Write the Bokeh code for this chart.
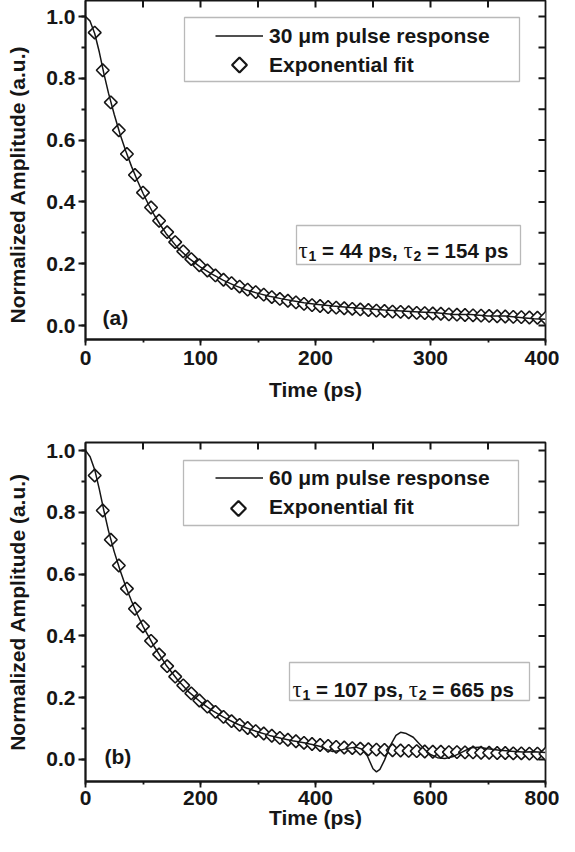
import numpy as np
from bokeh.plotting import figure
from bokeh.layouts import column
from bokeh.models import (Range1d, SingleIntervalTicker, Legend, LegendItem,
                          BoxAnnotation, Label, PrintfTickFormatter)
from bokeh.embed import file_html
from bokeh.resources import INLINE

FONT = "Liberation Sans"
SERIF = "Liberation Serif"
INK = "#161616"

# ---------------- panel (a): 30 um pulse ----------------
resp_a_t = [0, 4, 8, 12, 16, 20, 25, 30, 35, 40, 45, 50, 55, 60, 65, 70, 80, 90, 100, 110,
            120, 130, 140, 150, 160, 170, 180, 190, 200, 215, 230, 245, 260, 275, 290, 305,
            320, 335, 350, 365, 380, 390, 400]
resp_a_y = [1.000, 0.985, 0.945, 0.885, 0.815, 0.752, 0.683, 0.620, 0.565, 0.515, 0.470,
            0.428, 0.390, 0.356, 0.326, 0.298, 0.252, 0.217, 0.189, 0.166, 0.146, 0.129,
            0.115, 0.104, 0.095, 0.087, 0.080, 0.074, 0.069, 0.063, 0.058, 0.054, 0.050,
            0.047, 0.044, 0.041, 0.036, 0.036, 0.031, 0.031, 0.025, 0.022, 0.020]
fit_a_t = [8, 15, 22, 29, 36, 43, 50, 57, 64, 71, 78, 85, 92, 99, 106, 113, 120, 127, 134,
           141, 148, 155, 162, 169, 176, 183, 190, 197, 204, 211, 218, 225, 232, 239, 246,
           253, 260, 267, 274, 281, 288, 295, 302, 309, 316, 323, 330, 337, 344, 351, 358,
           365, 372, 379, 386, 393, 400]
fit_a_y = [0.948, 0.826, 0.722, 0.632, 0.555, 0.487, 0.430, 0.382, 0.339, 0.302, 0.270,
           0.240, 0.215, 0.195, 0.178, 0.162, 0.148, 0.137, 0.126, 0.116, 0.108, 0.100,
           0.092, 0.086, 0.080, 0.075, 0.070, 0.066, 0.063, 0.060, 0.058, 0.056, 0.054,
           0.052, 0.050, 0.048, 0.047, 0.045, 0.044, 0.043, 0.041, 0.040, 0.039, 0.038,
           0.036, 0.035, 0.034, 0.033, 0.032, 0.031, 0.030, 0.029, 0.028, 0.027, 0.026,
           0.025, 0.024]
top_ticks_a = [50, 100, 150, 200, 250, 300, 350]

# ---------------- panel (b): 60 um pulse ----------------
resp_b_t = [0, 8, 16, 24, 32, 40, 50, 60, 70, 80, 90, 100, 120, 140, 160, 180, 200, 220,
            240, 260, 280, 300, 320, 340, 360, 380, 400, 410, 420, 430, 440, 455, 470, 480,
            490, 500, 506, 512, 520, 530, 540, 548, 558, 570, 580, 590, 600, 612, 625, 640,
            655, 670, 685, 700, 720, 740, 760, 780, 800]
resp_b_y = [1.000, 0.980, 0.938, 0.875, 0.805, 0.740, 0.672, 0.613, 0.560, 0.513, 0.470,
            0.431, 0.364, 0.306, 0.258, 0.218, 0.186, 0.159, 0.137, 0.118, 0.102, 0.089,
            0.078, 0.069, 0.061, 0.054, 0.046, 0.041, 0.032, 0.026, 0.028, 0.036, 0.040,
            0.034, 0.012, -0.030, -0.040, -0.032, -0.002, 0.045, 0.078, 0.088, 0.084,
            0.072, 0.052, 0.032, 0.016, 0.006, 0.003, 0.010, 0.024, 0.038, 0.040, 0.035,
            0.030, 0.027, 0.024, 0.025, 0.023]
fit_b_t = [16, 30, 44, 58, 72, 86, 100, 114, 128, 142, 156, 170, 184, 198, 212, 226, 240,
           254, 268, 282, 296, 310, 324, 338, 352, 366, 380, 394, 408, 422, 436, 450, 464,
           478, 492, 506, 520, 534, 548, 562, 576, 590, 604, 618, 632, 646, 660, 674, 688,
           702, 716, 730, 744, 758, 772, 786, 800]
fit_b_y = [0.919, 0.806, 0.711, 0.628, 0.553, 0.488, 0.431, 0.384, 0.340, 0.302, 0.268,
           0.240, 0.214, 0.191, 0.171, 0.154, 0.138, 0.124, 0.112, 0.102, 0.092, 0.084,
           0.077, 0.070, 0.064, 0.059, 0.054, 0.050, 0.047, 0.044, 0.041, 0.039, 0.037,
           0.035, 0.033, 0.032, 0.031, 0.030, 0.029, 0.028, 0.027, 0.026, 0.025, 0.025,
           0.024, 0.024, 0.023, 0.023, 0.022, 0.022, 0.021, 0.021, 0.020, 0.020, 0.019,
           0.019, 0.018]
top_ticks_b = [100, 200, 300, 400, 500, 600, 700]

# right-hand (mirror) ticks, same for both panels
right_ticks = [0.0, 0.1, 0.2, 0.3, 0.4, 0.5, 0.6, 0.7, 0.8, 0.9, 1.0]

assert len(resp_a_t) == len(resp_a_y) and len(fit_a_t) == len(fit_a_y)
assert len(resp_b_t) == len(resp_b_y) and len(fit_b_t) == len(fit_b_y)

Y_TITLE = "Normalized Amplitude (a.u.)"
FW, FH = 460, 339          # frame size (px)
FRAME_LEFT_PAGE = 93
F_MAIN = 21
TICK_IN = 7                # px, inward mirror ticks


def char_w(s, size):
    """Advance widths of Arial/Liberation Sans Bold (em units)."""
    table = {" ": .278, "=": .584, "p": .611, "s": .556, ",": .278}
    return sum(table.get(c, .556) for c in s) * size


def build(cfg):
    xmax, ymin, ymax = cfg["xmax"], cfg["ymin"], cfg["ymax"]
    top_page = cfg["top_page"]
    dx_px = xmax / FW
    dy_px = (ymax - ymin) / FH

    def xd(px):
        return (px - FRAME_LEFT_PAGE) * dx_px

    def yd(py):
        return ymax - (py - top_page) * dy_px

    p = figure(width=559, height=cfg["fig_h"], x_range=Range1d(0, xmax),
               y_range=Range1d(ymin, ymax), output_backend="svg", toolbar_location=None,
               min_border_left=85, min_border_right=14, min_border_top=cfg["border_top"],
               min_border_bottom=cfg["border_bottom"])
    p.grid.visible = False
    p.outline_line_color = INK
    p.outline_line_width = 1.8
    p.background_fill_color = "white"
    p.border_fill_color = "white"

    ya = p.yaxis[0]
    ya.ticker = SingleIntervalTicker(interval=0.2, num_minor_ticks=2)
    ya.formatter = PrintfTickFormatter(format="%.1f")
    # panel (a)'s title sits a little below the frame centre: pad its upper end
    ya.axis_label = Y_TITLE + "\u00a0" * cfg["y_title_pad"]
    xa = p.xaxis[0]
    xa.ticker = SingleIntervalTicker(interval=cfg["xmajor"], num_minor_ticks=2)
    xa.axis_label = "Time (ps)"
    for ax, tout, mout, st, lst in ((ya, 7, 4, 3, 14),
                                    (xa, 6, 3, cfg["tick_standoff"], cfg["title_standoff"])):
        ax.major_tick_out = tout
        ax.major_tick_in = 0
        ax.minor_tick_out = mout
        ax.minor_tick_in = 0
        ax.major_label_standoff = st
        ax.axis_label_standoff = lst
        ax.axis_line_color = INK
        ax.axis_line_width = 1.8
        ax.major_tick_line_color = INK
        ax.major_tick_line_width = 1.8
        ax.minor_tick_line_color = INK
        ax.minor_tick_line_width = 1.8
        ax.major_label_text_font = FONT
        ax.major_label_text_font_style = "bold"
        ax.major_label_text_font_size = f"{F_MAIN}px"
        ax.major_label_text_color = INK
        ax.axis_label_text_font = FONT
        ax.axis_label_text_font_style = "bold"
        ax.axis_label_text_font_size = f"{F_MAIN}px"
        ax.axis_label_text_color = INK

    # mirrored inward ticks on the top and right frame edges
    tt = cfg["top_ticks"]
    p.segment(x0=tt, x1=tt, y0=[ymax] * len(tt), y1=[ymax - TICK_IN * dy_px] * len(tt),
              line_color=INK, line_width=2.0)
    p.segment(x0=[xmax] * len(right_ticks), x1=[xmax - TICK_IN * dx_px] * len(right_ticks),
              y0=right_ticks, y1=right_ticks, line_color=INK, line_width=2.0)

    # data: fit diamonds (white filled) under the measured pulse response
    sc = p.scatter(cfg["fit_t"], cfg["fit_y"], marker="square", angle=np.pi / 4, size=9,
                   fill_color="white", line_color=INK, line_width=1.6)
    ln = p.line(cfg["resp_t"], cfg["resp_y"], line_color=INK, line_width=1.5)

    # legend (the marker swatch is drawn rotated separately, Bokeh legends ignore angle)
    swatch_proxy = p.scatter([], [], marker="square", fill_alpha=0, line_alpha=0)
    leg = Legend(items=[LegendItem(label=cfg["legend_label"], renderers=[ln]),
                        LegendItem(label="Exponential fit", renderers=[swatch_proxy])],
                 location=(130, 260), orientation="vertical", glyph_width=48,
                 glyph_height=29, label_standoff=6, padding=0, spacing=0, margin=0,
                 border_line_color=None, background_fill_alpha=0,
                 label_text_font=FONT, label_text_font_style="bold",
                 label_text_font_size=f"{F_MAIN}px", label_text_color=INK)
    p.add_layout(leg)
    sw = cfg["swatch"]
    p.scatter([xd(sw[0])], [yd(sw[1])], marker="square", angle=np.pi / 4, size=10.5,
              fill_color="white", line_color=INK, line_width=2.2)
    lb = cfg["legend_box"]
    p.add_layout(BoxAnnotation(left=xd(lb[0]), right=xd(lb[1]), top=yd(lb[2]),
                               bottom=yd(lb[3]), fill_color=None, line_color=INK,
                               line_width=1.3))

    # tau box and text
    tb = cfg["tau_box"]
    p.add_layout(BoxAnnotation(left=xd(tb[0]), right=xd(tb[1]), top=yd(tb[2]),
                               bottom=yd(tb[3]), fill_color=None, line_color=INK,
                               line_width=1.3))
    F, FS = 20.5, 14
    x = cfg["tau_x"]
    base = cfg["tau_base"]
    for kind, txt in cfg["tau_parts"]:
        if kind == "tau":
            p.add_layout(Label(x=xd(x), y=yd(base), text=txt, text_font=SERIF,
                               text_font_size="23px", text_baseline="alphabetic",
                               text_align="left", text_color=INK))
            x += 10.0
        elif kind == "sub":
            p.add_layout(Label(x=xd(x), y=yd(base + 5), text=txt, text_font=FONT,
                               text_font_style="bold", text_font_size=f"{FS}px",
                               text_baseline="alphabetic", text_align="left",
                               text_color=INK))
            x += 0.556 * FS
        elif kind == "space":
            x += char_w(" ", F)
        else:
            p.add_layout(Label(x=xd(x), y=yd(base), text=txt, text_font=FONT,
                               text_font_style="bold", text_font_size=f"{F}px",
                               text_baseline="alphabetic", text_align="left",
                               text_color=INK))
            x += char_w(txt, F)

    p.add_layout(Label(x=xd(cfg["tag_pos"][0]), y=yd(cfg["tag_pos"][1]), text=cfg["tag"],
                       text_font=FONT, text_font_style="bold", text_font_size=f"{F_MAIN}px",
                       text_baseline="alphabetic", text_align="left", text_color=INK))
    return p


pa = build(dict(xmax=400, ymin=-0.0453, ymax=1.0518, top_page=8, fig_h=432,
                border_top=0, border_bottom=93, tick_standoff=5, title_standoff=10,
                xmajor=100, top_ticks=top_ticks_a, y_title_pad=5,
                resp_t=resp_a_t, resp_y=resp_a_y, fit_t=fit_a_t, fit_y=fit_a_y,
                legend_label="30 \u03bcm pulse response", legend_box=(192, 527, 25, 89),
                swatch=(247, 72.5),
                tau_box=(304, 528, 233, 272), tau_x=306, tau_base=258,
                tau_parts=[("tau", "\u03c4"), ("sub", "1"), ("space", ""), ("txt", "= 44 ps,"),
                           ("space", ""), ("tau", "\u03c4"), ("sub", "2"), ("space", ""),
                           ("txt", "= 154 ps")],
                tag="(a)", tag_pos=(110, 325)))

pb = build(dict(xmax=800, ymin=-0.0712, ymax=1.0259, top_page=450, fig_h=404,
                border_top=10, border_bottom=55, tick_standoff=3, title_standoff=-2,
                xmajor=200, top_ticks=top_ticks_b, y_title_pad=0,
                resp_t=resp_b_t, resp_y=resp_b_y, fit_t=fit_b_t, fit_y=fit_b_y,
                legend_label="60 \u03bcm pulse response", legend_box=(191, 526, 468, 533),
                swatch=(246, 516),
                tau_box=(297, 537, 670, 708), tau_x=300, tau_base=697,
                tau_parts=[("tau", "\u03c4"), ("sub", "1"), ("space", ""), ("txt", "= 107 ps,"),
                           ("space", ""), ("tau", "\u03c4"), ("sub", "2"), ("space", ""),
                           ("txt", "= 665 ps")],
                tag="(b)", tag_pos=(112, 764)))

layout = column(pa, pb, spacing=0)
open("out.html", "w").write(file_html(layout, INLINE))
